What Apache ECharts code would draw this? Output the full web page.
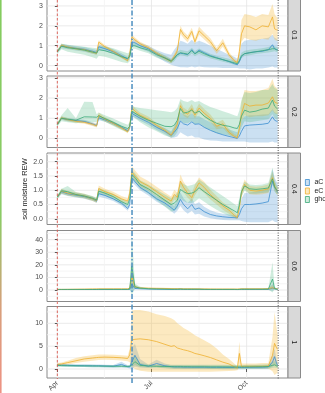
<!DOCTYPE html>
<html>
<head>
<meta charset="utf-8">
<script src="https://cdn.jsdelivr.net/npm/echarts@6/dist/echarts.min.js"></script>
<style>
  html, body { margin: 0; padding: 0; background: #fff; }
  #main { width: 325px; height: 393px; }
</style>
</head>
<body>
<div id="main"></div>
<script>
// days since 1 April
var days = [0,4,10,18,26,34,38,40,46,54,62,68,70,72,75,80,88,96,104,110,113,116,119,122,126,130,133,137,142,148,154,160,166,171,174,176,178,181,186,192,198,204,208,210,212,213];
var groups = ['aC', 'eC', 'ghost'];
var depths = ['0.1', '0.2', '0.4', '0.6', '1'];
var xTicks = [0, 91, 183];
var xTickLabels = ['Apr', 'Jul', 'Oct'];
var xMinor = [45.5, 137];
var startDay = 0, cutDay = 72.2, endDay = 213.5;

// depth 0.1
var aC_01 = [0.70,1.00,0.93,0.87,0.82,0.72,0.66,0.95,0.85,0.70,0.50,0.33,0.50,1.20,1.15,1.00,0.85,0.60,0.40,0.25,0.40,0.55,0.62,0.60,0.55,0.80,0.60,0.78,0.65,0.50,0.40,0.30,0.20,0.10,0.04,0.20,0.45,0.60,0.65,0.70,0.72,0.80,1.05,0.85,0.80,0.80];
var aC_01_lo = [0.62,0.88,0.82,0.76,0.70,0.60,0.55,0.80,0.72,0.58,0.38,0.22,0.35,1.02,0.98,0.85,0.70,0.45,0.20,0.05,0.00,-0.05,-0.08,-0.08,-0.10,-0.05,-0.10,-0.05,-0.08,-0.10,-0.10,-0.12,-0.12,-0.12,-0.12,-0.15,-0.15,-0.15,-0.20,-0.15,-0.15,-0.10,-0.05,-0.10,-0.10,-0.10];
var aC_01_hi = [0.78,1.10,1.04,0.98,0.94,0.84,0.78,1.08,0.98,0.82,0.62,0.45,0.62,1.35,1.30,1.15,1.00,0.78,0.62,0.55,0.80,1.00,1.25,1.20,1.10,1.30,1.15,1.25,1.15,1.00,0.85,0.70,0.55,0.45,0.35,0.60,1.10,1.25,1.30,1.30,1.35,1.40,1.55,1.40,1.35,1.30];
var eC_01 = [0.70,1.02,0.93,0.85,0.80,0.68,0.62,1.18,0.95,0.72,0.45,0.25,0.60,1.45,1.30,1.10,0.90,0.62,0.38,0.22,0.45,0.75,1.82,1.55,1.35,1.72,1.20,1.75,1.50,1.20,0.75,1.15,0.55,0.25,0.15,0.70,1.60,2.00,1.95,1.80,2.00,1.95,2.45,1.85,1.80,1.80];
var eC_01_lo = [0.64,0.94,0.86,0.78,0.72,0.60,0.55,1.08,0.86,0.64,0.38,0.18,0.48,1.32,1.18,1.00,0.80,0.52,0.28,0.12,0.32,0.60,1.62,1.38,1.18,1.55,1.05,1.55,1.32,1.02,0.60,0.95,0.42,0.15,0.08,0.50,1.20,1.40,1.30,1.25,1.35,1.30,1.60,1.30,1.25,1.25];
var eC_01_hi = [0.76,1.10,1.00,0.92,0.88,0.76,0.70,1.28,1.04,0.80,0.52,0.32,0.72,1.58,1.42,1.20,1.00,0.72,0.48,0.32,0.58,0.90,2.00,1.72,1.52,1.90,1.38,1.95,1.68,1.38,0.90,1.35,0.68,0.35,0.25,1.00,2.30,2.60,2.55,2.45,2.60,2.55,3.10,2.60,2.45,2.40];
var gh_01 = [0.70,0.98,0.90,0.85,0.78,0.68,0.63,0.80,0.75,0.62,0.45,0.37,0.45,1.00,1.00,0.90,0.78,0.55,0.38,0.22,0.35,0.55,0.65,0.62,0.58,0.75,0.60,0.72,0.60,0.47,0.38,0.30,0.22,0.14,0.10,0.25,0.50,0.60,0.65,0.70,0.75,0.80,0.85,0.85,0.80,0.78];
var gh_01_lo = [0.60,0.82,0.70,0.62,0.55,0.42,0.35,0.50,0.45,0.32,0.18,0.12,0.22,0.85,0.85,0.75,0.62,0.40,0.25,0.12,0.22,0.42,0.52,0.50,0.45,0.60,0.48,0.58,0.48,0.36,0.28,0.20,0.12,0.05,0.02,0.15,0.38,0.48,0.52,0.58,0.62,0.66,0.70,0.72,0.68,0.66];
var gh_01_hi = [0.80,1.10,1.05,1.00,0.95,0.90,0.88,1.00,0.98,0.88,0.72,0.62,0.68,1.15,1.15,1.05,0.92,0.70,0.52,0.35,0.50,0.70,0.80,0.76,0.72,0.90,0.74,0.86,0.74,0.60,0.50,0.42,0.34,0.25,0.20,0.38,0.65,0.75,0.80,0.84,0.88,0.94,1.02,0.98,0.94,0.92];

// depth 0.2
var aC_02 = [0.69,1.00,0.93,0.88,0.84,0.72,0.64,1.02,0.92,0.75,0.55,0.38,0.55,1.24,1.15,1.00,0.80,0.55,0.35,0.15,0.30,0.50,0.86,0.72,0.66,0.82,0.70,0.72,0.55,0.40,0.28,0.18,0.10,0.04,0.00,0.12,0.35,0.62,0.66,0.68,0.70,0.75,1.07,0.90,0.85,0.82];
var aC_02_lo = [0.62,0.92,0.85,0.80,0.76,0.64,0.56,0.90,0.82,0.66,0.46,0.30,0.42,1.10,1.02,0.88,0.68,0.42,0.20,0.02,0.05,0.10,0.30,0.20,0.10,0.15,0.05,0.05,-0.05,-0.10,-0.12,-0.15,-0.15,-0.15,-0.15,-0.15,-0.15,-0.15,-0.20,-0.20,-0.20,-0.20,-0.15,-0.20,-0.20,-0.20];
var aC_02_hi = [0.76,1.08,1.01,0.96,0.92,0.80,0.72,1.12,1.02,0.84,0.64,0.46,0.66,1.38,1.28,1.12,0.92,0.68,0.50,0.35,0.60,0.90,1.30,1.20,1.10,1.25,1.10,1.10,0.95,0.80,0.65,0.55,0.45,0.35,0.30,0.50,0.90,1.10,1.15,1.15,1.18,1.20,1.45,1.30,1.25,1.22];
var eC_02 = [0.69,1.02,0.93,0.85,0.80,0.70,0.62,1.15,0.95,0.75,0.52,0.33,0.60,1.53,1.35,1.15,0.95,0.65,0.40,0.16,0.40,0.70,1.62,1.32,1.20,1.48,1.15,1.50,1.25,0.99,0.60,0.72,0.30,0.10,0.03,0.50,1.20,1.73,1.60,1.65,1.65,1.75,2.06,1.80,1.75,1.72];
var eC_02_lo = [0.62,0.94,0.85,0.77,0.72,0.62,0.54,1.02,0.84,0.65,0.44,0.25,0.48,1.38,1.20,1.02,0.82,0.54,0.30,0.06,0.25,0.52,1.40,1.12,1.00,1.28,0.98,1.30,1.05,0.80,0.45,0.52,0.18,0.02,-0.05,0.30,0.85,1.15,1.05,1.10,1.10,1.15,1.40,1.25,1.20,1.18];
var eC_02_hi = [0.76,1.10,1.01,0.93,0.88,0.78,0.70,1.28,1.06,0.85,0.60,0.42,0.72,1.68,1.50,1.28,1.08,0.76,0.50,0.28,0.56,0.90,1.85,1.52,1.40,1.70,1.35,1.72,1.45,1.18,0.78,0.92,0.45,0.22,0.15,0.80,1.80,2.40,2.35,2.35,2.40,2.50,2.95,2.60,2.50,2.45];
var gh_02 = [0.69,1.00,0.95,0.90,1.07,1.06,1.05,1.12,0.98,0.80,0.60,0.49,0.60,1.35,1.25,1.10,0.90,0.75,0.60,0.58,0.65,0.90,1.48,1.25,1.30,1.40,1.25,1.35,1.10,0.90,0.75,0.65,0.60,0.52,0.49,0.70,1.10,1.40,1.30,1.35,1.45,1.50,1.90,1.60,1.50,1.45];
var gh_02_lo = [0.60,0.85,0.80,0.75,0.80,0.80,0.80,0.95,0.82,0.62,0.42,0.30,0.40,1.10,1.00,0.80,0.55,0.35,0.15,0.05,0.10,0.30,0.90,0.75,0.75,0.85,0.70,0.75,0.55,0.40,0.25,0.20,0.15,0.10,0.05,0.25,0.55,0.85,0.80,0.85,0.90,0.95,1.20,1.00,0.95,0.90];
var gh_02_hi = [0.78,1.15,1.50,1.00,1.81,1.80,1.20,1.28,1.15,0.98,0.80,0.68,0.80,1.60,1.55,1.50,1.45,1.40,1.35,1.30,1.35,1.50,1.95,1.85,1.80,1.90,1.80,1.85,1.70,1.55,1.45,1.35,1.25,1.15,1.10,1.40,1.90,2.30,2.25,2.30,2.40,2.40,2.70,2.50,2.45,2.40];

// depth 0.4
var aC_04 = [0.76,0.95,0.88,0.83,0.78,0.70,0.62,0.88,0.82,0.70,0.55,0.36,0.50,1.44,1.30,1.10,0.92,0.70,0.55,0.39,0.30,0.45,0.68,0.50,0.35,0.50,0.33,0.38,0.25,0.15,0.10,0.07,0.05,0.04,0.03,0.15,0.35,0.50,0.50,0.52,0.55,0.60,1.32,1.10,0.98,0.92];
var aC_04_lo = [0.70,0.86,0.80,0.75,0.70,0.62,0.55,0.78,0.72,0.62,0.47,0.28,0.40,1.30,1.18,1.00,0.82,0.60,0.44,0.28,0.18,0.28,0.45,0.30,0.18,0.28,0.15,0.18,0.08,0.02,-0.02,-0.04,-0.05,-0.05,-0.05,-0.05,-0.08,-0.10,-0.12,-0.12,-0.12,-0.12,-0.05,-0.10,-0.12,-0.12];
var aC_04_hi = [0.82,1.04,0.96,0.91,0.86,0.78,0.70,0.98,0.92,0.78,0.63,0.45,0.62,1.58,1.42,1.22,1.02,0.80,0.68,0.52,0.45,0.65,0.92,0.72,0.55,0.72,0.52,0.58,0.42,0.30,0.22,0.18,0.15,0.12,0.10,0.30,0.70,0.90,0.92,0.95,1.00,1.05,1.75,1.45,1.30,1.25];
var eC_04 = [0.76,0.97,0.90,0.85,0.80,0.70,0.64,1.06,0.95,0.85,0.70,0.62,0.90,1.65,1.50,1.30,1.15,0.95,0.75,0.62,0.85,0.75,1.32,1.10,0.90,0.74,1.00,1.26,1.10,0.85,0.65,0.45,0.30,0.12,0.04,0.40,0.90,1.21,1.00,0.97,1.00,1.05,1.44,1.15,1.00,0.97];
var eC_04_lo = [0.70,0.89,0.82,0.77,0.72,0.62,0.56,0.95,0.85,0.75,0.60,0.52,0.76,1.48,1.33,1.14,0.99,0.80,0.60,0.48,0.68,0.60,1.12,0.92,0.74,0.60,0.82,1.05,0.90,0.68,0.50,0.32,0.18,0.04,-0.02,0.28,0.76,1.05,0.86,0.84,0.86,0.90,1.25,1.00,0.86,0.83];
var eC_04_hi = [0.82,1.05,0.98,0.93,0.88,0.78,0.72,1.17,1.05,0.95,0.80,0.72,1.04,1.85,1.70,1.48,1.32,1.12,0.92,0.78,1.02,0.92,1.55,1.30,1.08,0.90,1.20,1.45,1.30,1.02,0.80,0.58,0.42,0.22,0.12,0.54,1.05,1.38,1.15,1.12,1.15,1.20,1.65,1.32,1.15,1.12];
var gh_04 = [0.76,0.98,0.95,0.85,0.80,0.72,0.66,0.97,0.90,0.78,0.60,0.50,0.70,1.55,1.45,1.20,1.05,0.85,0.65,0.50,0.55,0.65,1.03,0.95,0.88,0.90,0.95,1.09,0.95,0.80,0.65,0.50,0.38,0.28,0.21,0.50,0.95,1.15,1.05,1.03,1.05,1.08,1.40,1.12,1.02,0.98];
var gh_04_lo = [0.70,0.88,0.82,0.76,0.72,0.64,0.58,0.86,0.80,0.68,0.50,0.40,0.58,1.40,1.30,1.05,0.88,0.65,0.42,0.25,0.28,0.35,0.70,0.62,0.55,0.55,0.60,0.72,0.60,0.45,0.32,0.20,0.10,0.05,0.02,0.28,0.78,0.98,0.88,0.88,0.90,0.92,1.20,0.95,0.88,0.85];
var gh_04_hi = [0.82,1.05,1.15,0.94,0.88,0.80,0.74,1.08,1.00,0.88,0.70,0.60,0.82,1.70,1.60,1.35,1.20,1.02,0.85,0.72,0.80,0.92,1.30,1.22,1.15,1.18,1.22,1.38,1.25,1.10,0.95,0.80,0.65,0.52,0.45,0.72,1.10,1.30,1.20,1.18,1.20,1.25,1.80,1.35,1.18,1.12];

// depth 0.6
var aC_06 = [0.40,0.40,0.40,0.40,0.40,0.40,0.40,0.45,0.45,0.45,0.45,0.45,0.60,4.80,1.20,1.00,0.80,0.70,0.60,0.50,0.50,0.50,0.60,0.50,0.50,0.50,0.50,0.50,0.45,0.40,0.40,0.40,0.40,0.40,0.35,0.40,0.50,0.50,0.50,0.50,0.50,0.50,1.50,1.00,0.60,0.50];
var aC_06_lo = [0.10,0.10,0.10,0.10,0.10,0.10,0.10,0.15,0.15,0.15,0.15,0.15,0.20,-1.50,0.50,0.40,0.30,0.20,0.20,0.10,0.10,0.10,0.10,0.10,0.10,0.10,0.10,0.10,0.10,0.10,0.10,0.10,0.10,0.10,0.05,0.10,0.10,0.10,0.10,0.10,0.10,0.10,-0.50,0.20,0.20,0.10];
var aC_06_hi = [0.70,0.70,0.70,0.70,0.70,0.70,0.70,0.75,0.75,0.75,0.75,0.75,1.00,15.0,2.50,1.80,1.40,1.20,1.00,0.90,0.90,0.90,1.10,0.90,0.90,0.90,0.90,0.90,0.80,0.70,0.70,0.70,0.70,0.70,0.65,0.70,0.90,0.90,0.90,0.90,0.90,0.90,5.00,2.00,1.00,0.90];
var eC_06 = [0.50,0.50,0.55,0.60,0.70,0.80,0.85,0.90,0.90,0.90,0.90,0.90,1.50,11.0,2.50,1.60,1.40,1.30,1.20,1.10,1.00,1.00,1.00,0.90,0.90,0.90,0.85,0.80,0.80,0.75,0.70,0.70,0.70,0.70,0.65,0.80,0.90,0.90,0.90,0.90,0.90,1.00,1.80,1.20,1.00,0.90];
var eC_06_lo = [0.20,0.20,0.25,0.30,0.40,0.50,0.55,0.60,0.60,0.60,0.60,0.60,0.90,2.00,1.50,1.10,0.90,0.80,0.70,0.60,0.50,0.50,0.50,0.40,0.40,0.40,0.35,0.30,0.30,0.25,0.20,0.20,0.20,0.20,0.15,0.30,0.40,0.40,0.40,0.40,0.40,0.50,0.50,0.70,0.50,0.40];
var eC_06_hi = [0.80,0.80,0.85,0.90,1.00,1.10,1.15,1.20,1.20,1.20,1.20,1.20,2.20,20.0,3.80,2.20,1.90,1.80,1.70,1.60,1.50,1.50,1.50,1.40,1.40,1.40,1.35,1.30,1.30,1.25,1.20,1.20,1.20,1.20,1.15,1.30,1.40,1.40,1.40,1.40,1.40,1.50,4.00,1.80,1.50,1.40];
var gh_06 = [0.45,0.45,0.45,0.45,0.45,0.45,0.45,0.50,0.50,0.50,0.50,0.50,0.80,19.0,2.50,1.50,1.00,0.80,0.70,0.60,0.60,0.60,0.70,0.60,0.60,0.60,0.60,0.60,0.50,0.50,0.50,0.50,0.50,0.50,0.45,0.50,0.60,0.60,0.60,0.60,0.60,0.70,8.70,1.20,0.70,0.60];
var gh_06_lo = [0.15,0.15,0.15,0.15,0.15,0.15,0.15,0.20,0.20,0.20,0.20,0.20,0.40,-4.00,1.00,0.80,0.50,0.40,0.30,0.25,0.25,0.25,0.30,0.25,0.25,0.25,0.25,0.25,0.20,0.20,0.20,0.20,0.20,0.20,0.15,0.20,0.25,0.25,0.25,0.25,0.25,0.30,-2.00,0.50,0.30,0.25];
var gh_06_hi = [0.75,0.75,0.75,0.75,0.75,0.75,0.75,0.80,0.80,0.80,0.80,0.80,1.20,45.0,5.00,2.50,1.60,1.30,1.10,1.00,1.00,1.00,1.10,1.00,1.00,1.00,1.00,1.00,0.85,0.85,0.85,0.85,0.85,0.85,0.80,0.85,1.00,1.00,1.00,1.00,1.00,1.10,22.0,2.50,1.20,1.00];

// depth 1
var aC_1 = [0.90,0.85,0.80,0.75,0.72,0.70,0.70,0.70,0.65,0.60,1.00,0.50,0.45,1.50,3.00,1.00,0.60,1.20,0.70,0.50,0.45,0.45,0.45,0.42,0.42,0.40,0.40,0.40,0.40,0.38,0.38,0.36,0.35,0.35,0.33,0.33,0.35,0.35,0.38,0.40,0.40,0.45,1.50,2.70,1.20,0.80];
var aC_1_lo = [0.60,0.55,0.50,0.45,0.42,0.40,0.40,0.40,0.35,0.30,0.40,0.20,0.10,0.00,0.50,0.30,0.20,0.40,0.20,0.10,0.05,0.05,0.05,0.02,0.02,0.00,0.00,0.00,0.00,-0.02,-0.02,-0.04,-0.05,-0.05,-0.07,-0.07,-0.05,-0.05,-0.02,0.00,0.00,0.05,0.50,1.00,0.40,0.30];
var aC_1_hi = [1.20,1.15,1.10,1.05,1.02,1.00,1.00,1.00,0.95,0.90,1.60,0.80,0.80,4.50,5.50,2.20,1.00,2.00,1.20,0.90,0.85,0.85,0.85,0.82,0.82,0.80,0.80,0.80,0.80,0.78,0.78,0.76,0.75,0.75,0.73,0.73,0.75,0.75,0.78,0.80,0.80,0.85,3.00,4.50,2.00,1.30];
var eC_1 = [1.00,1.10,1.40,1.80,2.20,2.40,2.50,2.55,2.60,2.55,2.45,2.30,3.10,6.35,6.50,6.60,6.40,6.00,5.40,4.95,5.10,4.60,4.40,4.20,4.00,3.70,3.40,3.20,2.90,2.50,2.00,1.50,1.10,0.50,0.20,3.40,0.50,0.60,0.60,0.60,0.60,0.65,3.00,5.60,4.60,4.30];
var eC_1_lo = [0.70,0.80,1.00,1.30,1.60,1.80,1.90,1.95,2.00,1.95,1.85,1.70,1.50,0.50,0.00,-0.40,-0.60,-0.60,-0.60,-0.60,-0.60,-0.60,-0.60,-0.60,-0.60,-0.60,-0.60,-0.60,-0.60,-0.60,-0.55,-0.50,-0.45,-0.40,-0.30,0.40,0.10,0.15,0.15,0.15,0.15,0.10,-0.50,-1.30,-1.00,-0.80];
var eC_1_hi = [1.30,1.40,1.80,2.40,2.80,3.00,3.10,3.15,3.20,3.10,3.00,2.90,4.50,12.8,12.9,12.9,12.6,12.0,11.6,11.1,10.7,10.0,9.50,9.00,8.50,7.90,7.40,6.90,6.30,5.50,4.50,3.20,2.20,1.20,0.60,6.00,1.20,1.20,1.20,1.20,1.30,1.30,7.00,12.5,9.00,7.50];
var gh_1 = [0.80,0.75,0.72,0.70,0.68,0.66,0.65,0.65,0.62,0.60,0.60,0.55,0.60,0.90,1.60,0.80,0.65,0.60,0.55,0.52,0.50,0.50,0.50,0.50,0.50,0.48,0.48,0.48,0.48,0.46,0.46,0.45,0.45,0.45,0.44,0.44,0.45,0.45,0.46,0.48,0.50,0.55,0.80,0.90,0.70,0.60];
var gh_1_lo = [0.55,0.50,0.47,0.45,0.43,0.41,0.40,0.40,0.37,0.35,0.35,0.30,0.35,0.50,0.80,0.45,0.35,0.25,0.15,0.10,0.05,0.05,0.05,0.05,0.05,0.03,0.03,0.03,0.03,0.00,0.00,0.00,0.00,0.00,0.00,0.00,0.00,0.00,0.00,0.00,0.00,0.05,0.20,0.30,0.20,0.15];
var gh_1_hi = [1.05,1.00,0.97,0.95,0.93,0.91,0.90,0.90,0.87,0.85,0.85,0.80,0.90,1.80,3.00,1.30,1.00,0.95,0.95,0.95,0.95,0.95,0.95,0.95,0.95,0.93,0.93,0.93,0.93,0.92,0.92,0.92,0.92,0.92,0.90,0.90,0.90,0.90,0.92,0.95,1.00,1.05,1.60,1.70,1.30,1.10];

var lineColors = ['#3b8ed0', '#efb02e', '#3aaa78'];
var bandColors = ['rgba(70,145,210,0.28)', 'rgba(246,182,48,0.30)', 'rgba(70,180,125,0.26)'];
var font = 'Liberation Sans, Arial, sans-serif';

var panels = [
  {top: -1, height: 72, min: -0.27, max: 3.35, ticks: [0, 1, 2, 3], minor: [0.5, 1.5, 2.5], dec: 0,
   mean: [aC_01, eC_01, gh_01], lo: [aC_01_lo, eC_01_lo, gh_01_lo], hi: [aC_01_hi, eC_01_hi, gh_01_hi]},
  {top: 76, height: 71.5, min: -0.45, max: 3.09, ticks: [0, 1, 2, 3], minor: [0.5, 1.5, 2.5], dec: 0,
   mean: [aC_02, eC_02, gh_02], lo: [aC_02_lo, eC_02_lo, gh_02_lo], hi: [aC_02_hi, eC_02_hi, gh_02_hi]},
  {top: 153, height: 71.5, min: -0.20, max: 2.305, ticks: [0, 0.5, 1, 1.5, 2], minor: [0.25, 0.75, 1.25, 1.75, 2.25], dec: 1,
   mean: [aC_04, eC_04, gh_04], lo: [aC_04_lo, eC_04_lo, gh_04_lo], hi: [aC_04_hi, eC_04_hi, gh_04_hi]},
  {top: 230.5, height: 71, min: -9.14, max: 47.3, ticks: [0, 10, 20, 30, 40], minor: [-5, 5, 15, 25, 35, 45], dec: 0,
   mean: [aC_06, eC_06, gh_06], lo: [aC_06_lo, eC_06_lo, gh_06_lo], hi: [aC_06_hi, eC_06_hi, gh_06_hi]},
  {top: 306.5, height: 71.5, min: -1.97, max: 13.68, ticks: [0, 5, 10], minor: [2.5, 7.5, 12.5], dec: 0,
   mean: [aC_1, eC_1, gh_1], lo: [aC_1_lo, eC_1_lo, gh_1_lo], hi: [aC_1_hi, eC_1_hi, gh_1_hi]}
];

var gridLeft = 47, gridRight = 288, stripRight = 300.5;

function bandSeries(pi, k, lo, hi) {
  return {
    type: 'custom',
    name: groups[k] + ' band',
    xAxisIndex: pi, yAxisIndex: pi,
    silent: true, z: 2,
    data: days.map(function (d, i) { return [d, lo[i], hi[i]]; }),
    encode: {x: 0, y: [1, 2]},
    renderItem: function (params, api) {
      if (params.dataIndex !== 0) return null;
      var pts = [];
      for (var i = 0; i < days.length; i++) pts.push(api.coord([days[i], hi[i]]));
      for (var j = days.length - 1; j >= 0; j--) pts.push(api.coord([days[j], lo[j]]));
      return {type: 'polygon', shape: {points: pts}, style: {fill: bandColors[k], stroke: null}};
    }
  };
}

var grids = [], xAxes = [], yAxes = [], series = [];
panels.forEach(function (p, i) {
  var last = i === panels.length - 1;
  grids.push({left: gridLeft, top: p.top, width: gridRight - gridLeft, height: p.height,
    show: true, borderColor: '#8a8a8a', borderWidth: 1, backgroundColor: 'transparent', outerBoundsMode: 'none'});
  xAxes.push({
    type: 'value', gridIndex: i, min: -10, max: 223,
    axisLine: {show: false}, splitLine: {show: false},
    axisTick: {show: last, customValues: xTicks, length: 3, lineStyle: {color: '#333', width: 0.8}},
    axisLabel: {show: last, customValues: xTicks, rotate: 45, fontSize: 7, color: '#4d4d4d', margin: 4, fontFamily: font,
      formatter: function (v) { return xTickLabels[xTicks.indexOf(v)]; }}
  });
  yAxes.push({
    type: 'value', gridIndex: i, min: p.min, max: p.max,
    axisLine: {show: false}, splitLine: {show: false},
    axisTick: {show: true, customValues: p.ticks, length: 2.5, lineStyle: {color: '#333', width: 0.8}},
    axisLabel: {customValues: p.ticks, fontSize: 7, color: '#4d4d4d', margin: 4, fontFamily: font,
      formatter: function (v) { return v.toFixed(p.dec); }}
  });
  for (var k = 0; k < 3; k++) series.push(bandSeries(i, k, p.lo[k], p.hi[k]));
  for (var k2 = 0; k2 < 3; k2++) {
    var m = p.mean[k2];
    series.push({
      type: 'line', name: groups[k2], xAxisIndex: i, yAxisIndex: i, silent: true, z: 3,
      symbol: 'none', showSymbol: false,
      data: days.map(function (d, j) { return [d, m[j]]; }),
      lineStyle: {color: lineColors[k2], width: 0.8},
      itemStyle: {color: lineColors[k2]}
    });
  }
});

var chart = echarts.init(document.getElementById('main'));
chart.setOption({
  animation: false,
  textStyle: {fontFamily: font},
  grid: grids, xAxis: xAxes, yAxis: yAxes, series: series,
  legend: {
    orient: 'vertical', left: 305, top: 179, padding: 0, itemGap: 1.5,
    itemWidth: 4, itemHeight: 6, selectedMode: false,
    textStyle: {fontSize: 7, color: '#222', fontFamily: font},
    data: groups.map(function (g, k) {
      return {name: g, icon: 'rect', itemStyle: {color: bandColors[k], borderColor: lineColors[k], borderWidth: 0.8}};
    })
  }
});

// grid lines, strips, reference lines drawn from the axes' own scales
var gfx = [];
gfx.push({type: 'rect', silent: true, z: 20, shape: {x: 0, y: 0, width: 1.6, height: 393},
  style: {fill: {type: 'linear', x: 0, y: 0, x2: 0, y2: 1, colorStops: [
    {offset: 0, color: '#84cc5f'}, {offset: 0.55, color: '#8ccb66'},
    {offset: 0.78, color: '#d8a07c'}, {offset: 1, color: '#ee9284'}]}}});

panels.forEach(function (p, i) {
  var top = Math.max(p.top, 0), bot = p.top + p.height;
  function hline(v, c) {
    var y = chart.convertToPixel({yAxisIndex: i}, v);
    gfx.push({type: 'line', silent: true, z: 0, shape: {x1: gridLeft, y1: y, x2: gridRight, y2: y}, style: {stroke: c, lineWidth: 0.8}});
  }
  function vline(d, c) {
    var x = chart.convertToPixel({xAxisIndex: i}, d);
    gfx.push({type: 'line', silent: true, z: 0, shape: {x1: x, y1: top, x2: x, y2: bot}, style: {stroke: c, lineWidth: 0.8}});
  }
  p.minor.forEach(function (v) { hline(v, '#f3f3f3'); });
  p.ticks.forEach(function (v) { hline(v, '#e4e4e4'); });
  xMinor.forEach(function (d) { vline(d, '#f3f3f3'); });
  xTicks.forEach(function (d) { vline(d, '#e4e4e4'); });
  gfx.push({type: 'rect', silent: true, z: 5, shape: {x: gridRight, y: p.top, width: stripRight - gridRight, height: p.height},
    style: {fill: '#d9d9d9', stroke: '#8a8a8a', lineWidth: 1}});
  gfx.push({type: 'text', silent: true, z: 6, x: (gridRight + stripRight) / 2, y: p.top + p.height / 2, rotation: -Math.PI / 2,
    style: {text: depths[i], fontSize: 7, fill: '#1a1a1a', align: 'center', verticalAlign: 'middle', fontFamily: font}});
});

var xs = chart.convertToPixel({xAxisIndex: 0}, startDay);
var xc = chart.convertToPixel({xAxisIndex: 0}, cutDay);
var xe = chart.convertToPixel({xAxisIndex: 0}, endDay);
gfx.push({type: 'line', silent: true, z: 10, shape: {x1: xs, y1: 0, x2: xs, y2: 379},
  style: {stroke: '#d9463b', lineWidth: 0.8, lineDash: [2.5, 2]}});
gfx.push({type: 'line', silent: true, z: 10, shape: {x1: xe, y1: 0, x2: xe, y2: 379},
  style: {stroke: '#555', lineWidth: 1, lineDash: [1, 1.5]}});
gfx.push({type: 'line', silent: true, z: 10, shape: {x1: xc, y1: 0, x2: xc, y2: 383},
  style: {stroke: '#4d8fc0', lineWidth: 1.5, lineDash: [5, 2, 1.5, 2]}});

gfx.push({type: 'text', silent: true, z: 6, x: 25, y: 189, rotation: Math.PI / 2,
  style: {text: 'soil moisture REW', fontSize: 7.5, fill: '#222', align: 'center', verticalAlign: 'middle', fontFamily: font}});

chart.setOption({graphic: gfx});
</script>
</body>
</html>
